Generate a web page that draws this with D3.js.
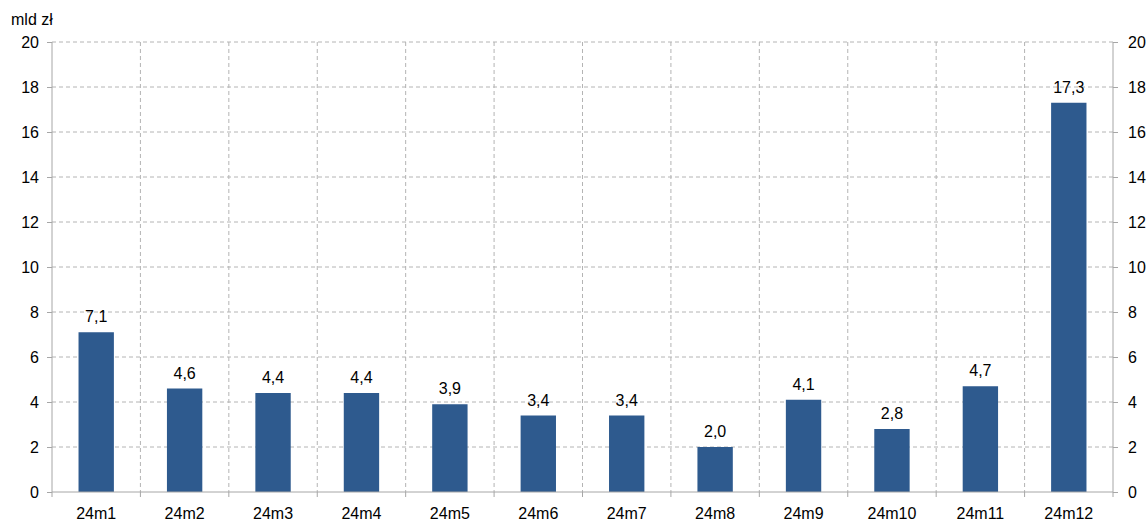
<!DOCTYPE html>
<html>
<head>
<meta charset="utf-8">
<script src="https://cdn.jsdelivr.net/npm/d3@7"></script>
<style>
  body { margin: 0; background: #fff; }
  text { font-family: "Liberation Sans", Arial, sans-serif; fill: #000; }
</style>
</head>
<body>
<div id="chart"></div>
<script>
const categories = ["24m1", "24m2", "24m3", "24m4", "24m5", "24m6", "24m7", "24m8", "24m9", "24m10", "24m11", "24m12"];
const values = [7.1, 4.6, 4.4, 4.4, 3.9, 3.4, 3.4, 2.0, 4.1, 2.8, 4.7, 17.3];
const yTicks = [0, 2, 4, 6, 8, 10, 12, 14, 16, 18, 20];
const unitLabel = "mld zł";

const margin = { top: 42, right: 35, bottom: 33, left: 52 };
const width = 1148 - margin.left - margin.right,
    height = 525 - margin.top - margin.bottom;

const fontSize = "16px";

const svg = d3.select("#chart").append("svg")
    .attr("width", 1148)
    .attr("height", 525)
    .append("g")
    .attr("transform", `translate(${margin.left},${margin.top})`);

const xScale = d3.scaleBand()
    .domain(categories)
    .range([0, width])
    .paddingInner(0.6)
    .paddingOuter(0.3);

const yScale = d3.scaleLinear()
    .domain([0, 20])
    .range([height, 0]);

const gridColor = "#b4b4b4";
const axisColor = "#a6a6a6";

// horizontal grid
svg.append("g")
    .selectAll("line")
    .data(yTicks.filter(d => d > 0))
    .join("line")
    .attr("x1", 0).attr("x2", width)
    .attr("y1", d => yScale(d)).attr("y2", d => yScale(d))
    .attr("stroke", gridColor)
    .attr("stroke-dasharray", "4,3");

// vertical grid at category boundaries
const step = width / categories.length;
svg.append("g")
    .selectAll("line")
    .data(d3.range(1, categories.length))
    .join("line")
    .attr("x1", d => d * step).attr("x2", d => d * step)
    .attr("y1", 0).attr("y2", height)
    .attr("stroke", gridColor)
    .attr("stroke-dasharray", "4,3");

// bars
svg.selectAll(".bar")
    .data(values)
    .join("rect")
    .attr("class", "bar")
    .attr("x", (d, i) => xScale(categories[i]))
    .attr("width", xScale.bandwidth())
    .attr("y", d => yScale(d))
    .attr("height", d => height - yScale(d))
    .attr("fill", "#2e5a8e");

// value labels
svg.selectAll(".val")
    .data(values)
    .join("text")
    .attr("class", "val")
    .attr("x", (d, i) => xScale(categories[i]) + xScale.bandwidth() / 2)
    .attr("y", d => yScale(d) - 10)
    .attr("text-anchor", "middle")
    .style("font-size", fontSize)
    .text(d => d.toFixed(1).replace(".", ","));

// axes
const yAxisL = d3.axisLeft(yScale).tickValues(yTicks).tickSize(5).tickPadding(8);
const yAxisR = d3.axisRight(yScale).tickValues(yTicks).tickSize(5).tickPadding(10);

const gl = svg.append("g").call(yAxisL);
const gr = svg.append("g").attr("transform", `translate(${width},0)`).call(yAxisR);

[gl, gr].forEach(g => {
    g.select(".domain").remove();
    g.selectAll(".tick line").attr("stroke", axisColor);
    g.selectAll(".tick text").style("font-size", fontSize).attr("fill", "#000")
        .style("font-family", '"Liberation Sans", Arial, sans-serif');
});
svg.append("line").attr("x1", 0).attr("x2", 0).attr("y1", 0).attr("y2", height).attr("stroke", axisColor);
svg.append("line").attr("x1", width).attr("x2", width).attr("y1", 0).attr("y2", height).attr("stroke", axisColor);

// x axis: baseline with ticks at boundaries
const gx = svg.append("g").attr("transform", `translate(0,${height})`);
gx.append("line").attr("x1", 0).attr("x2", width).attr("stroke", axisColor);
gx.selectAll(".tk")
    .data(d3.range(0, categories.length + 1))
    .join("line")
    .attr("x1", d => d * step).attr("x2", d => d * step)
    .attr("y1", 0).attr("y2", 5)
    .attr("stroke", axisColor);
gx.selectAll(".cat")
    .data(categories)
    .join("text")
    .attr("x", d => xScale(d) + xScale.bandwidth() / 2)
    .attr("y", 27)
    .attr("text-anchor", "middle")
    .style("font-size", fontSize)
    .text(d => d);

svg.append("text")
    .attr("x", -41)
    .attr("y", -17)
    .style("font-size", fontSize)
    .text(unitLabel);
</script>
</body>
</html>
